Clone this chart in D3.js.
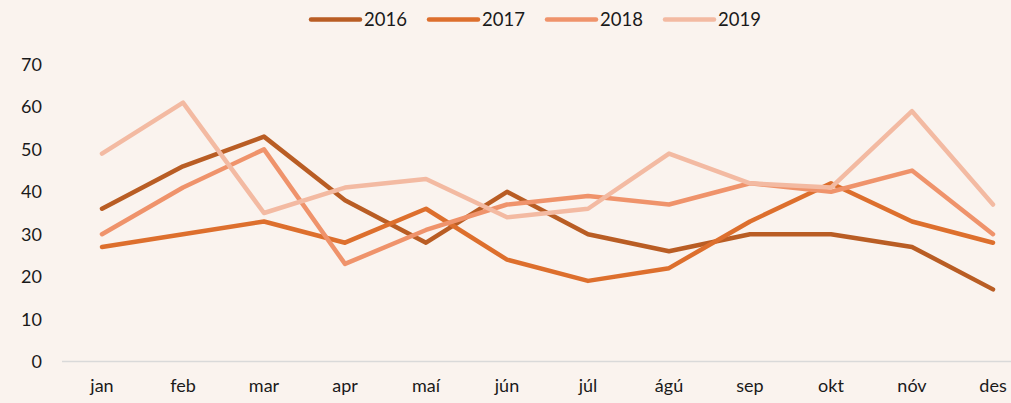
<!DOCTYPE html>
<html>
  <head>
    <meta charset="UTF-8">
    <title>Monthly lines</title>
    <script src="https://cdn.jsdelivr.net/npm/d3@7/dist/d3.min.js"></script>
    <style>
      body, html { margin:0; padding:0; background:#faf3ee; }
      text { font-family: Lato, "Open Sans", sans-serif; fill:#1a1a1a; }
    </style>
  </head>
  <body>
<div id="chart"></div>
<script type="text/javascript">

var months = ['jan','feb','mar','apr','maí','jún','júl','ágú','sep','okt','nóv','des'];
var years = ['2016','2017','2018','2019'];
var v2016 = [36, 46, 53, 38, 28, 40, 30, 26, 30, 30, 27, 17];
var v2017 = [27, 30, 33, 28, 36, 24, 19, 22, 33, 42, 33, 28];
var v2018 = [30, 41, 50, 23, 31, 37, 39, 37, 42, 40, 45, 30];
var v2019 = [49, 61, 35, 41, 43, 34, 36, 49, 42, 41, 59, 37];
var yTicks = [0, 10, 20, 30, 40, 50, 60, 70];
var colors = ['#b95d24', '#dd6f2d', '#ef936b', '#f3baa2'];

var series = [v2016, v2017, v2018, v2019];

var W = 1011, H = 403;
var svg = d3.select('#chart').append('svg').attr('width', W).attr('height', H);
svg.append('rect').attr('width', W).attr('height', H).attr('fill', '#faf3ee');

// band scale so the points sit at the centre of each month
var x = d3.scaleBand().domain(months).range([62, 1034]);
var y = d3.scaleLinear().domain([0, 70]).range([361.5, 64.5]);
var cx = function(m){ return x(m) + x.bandwidth()/2 - 0.5; };

// y labels
svg.append('g').selectAll('text').data(yTicks).enter().append('text')
  .attr('x', 42).attr('y', function(d){ return y(d); }).attr('dy', '0.36em')
  .attr('text-anchor', 'end').style('font-size', '18px')
  .text(function(d){ return d; });

// baseline
svg.append('line').attr('x1', 62).attr('x2', W).attr('y1', y(0)).attr('y2', y(0))
  .attr('stroke', '#d9d9d9').attr('stroke-width', 1.5);

// x labels
svg.append('g').selectAll('text').data(months).enter().append('text')
  .attr('x', cx).attr('y', 392).attr('text-anchor', 'middle').style('font-size', '18px')
  .text(function(d){ return d; });

var line = d3.line().x(function(d, i){ return cx(months[i]); }).y(function(d){ return y(d); });

series.forEach(function(s, k){
  svg.append('path').datum(s).attr('d', line).attr('fill', 'none')
    .attr('stroke', colors[k]).attr('stroke-width', 4.5)
    .attr('stroke-linejoin', 'round').attr('stroke-linecap', 'round');
});

// legend
var leg = svg.append('g').selectAll('g').data(years).enter().append('g')
  .attr('transform', function(d, i){ return 'translate(' + (311 + i*118) + ',19.5)'; });
leg.append('line').attr('x1', 0).attr('x2', 49).attr('y1', 0).attr('y2', 0)
  .attr('stroke', function(d, i){ return colors[i]; }).attr('stroke-width', 4.5)
  .attr('stroke-linecap', 'round');
leg.append('text').attr('x', 53).attr('dy', '0.36em').style('font-size', '18.5px')
  .text(function(d){ return d; });

</script>
  </body>
</html>
